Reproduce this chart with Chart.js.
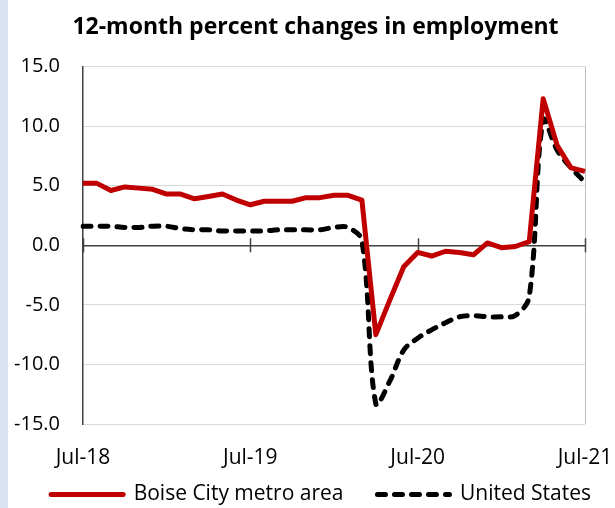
<!DOCTYPE html>
<html>
<head>
<meta charset="utf-8">
<script src="https://cdn.jsdelivr.net/npm/chart.js@4"></script>
<style>
  html, body { margin: 0; padding: 0; background: #fff; }
  #wrap { position: relative; width: 615px; height: 508px; }
  #strip { position: absolute; left: 0; top: 0; width: 8px; height: 508px; background: #dae3f3; }
  #myChart { position: absolute; left: 0; top: 0; }
</style>
</head>
<body>
<div id="wrap">
  <div id="strip"></div>
  <canvas id="myChart" width="615" height="508"></canvas>
</div>
<script>
const months = [
  'Jul-18','Aug-18','Sep-18','Oct-18','Nov-18','Dec-18',
  'Jan-19','Feb-19','Mar-19','Apr-19','May-19','Jun-19',
  'Jul-19','Aug-19','Sep-19','Oct-19','Nov-19','Dec-19',
  'Jan-20','Feb-20','Mar-20','Apr-20','May-20','Jun-20',
  'Jul-20','Aug-20','Sep-20','Oct-20','Nov-20','Dec-20',
  'Jan-21','Feb-21','Mar-21','Apr-21','May-21','Jun-21',
  'Jul-21'
];

const boise = [
  5.2, 5.2, 4.6, 4.9, 4.8, 4.7, 4.3, 4.3, 3.9, 4.1, 4.3, 3.8,
  3.4, 3.7, 3.7, 3.7, 4.0, 4.0, 4.2, 4.2, 3.8, -7.5, -4.6, -1.8,
  -0.6, -0.9, -0.5, -0.6, -0.8, 0.2, -0.2, -0.1, 0.3, 12.3, 8.4, 6.5,
  6.2
];

const unitedStates = [
  1.6, 1.6, 1.6, 1.5, 1.5, 1.6, 1.6, 1.4, 1.3, 1.3, 1.2, 1.2,
  1.2, 1.2, 1.3, 1.3, 1.3, 1.3, 1.5, 1.5, 0.4, -13.3, -11.4, -8.8,
  -7.8, -7.1, -6.5, -6.0, -5.9, -6.0, -6.0, -5.9, -4.3, 10.5, 8.0, 6.5,
  5.3
];

const yTicks = [-15, -10, -5, 0, 5, 10, 15];

const FONT = '"Open Sans", "Liberation Sans", sans-serif';

// small tick marks across the zero line at each labelled month
const zeroTicks = {
  id: 'zeroTicks',
  beforeDatasetsDraw(chart) {
    const { ctx, scales: { x, y } } = chart;
    const y0 = y.getPixelForValue(0);
    ctx.save();
    ctx.strokeStyle = '#404040';
    ctx.lineWidth = 1.5;
    months.forEach((m, i) => {
      if (i % 12 !== 0) return;
      const px = Math.round(x.getPixelForValue(i)) + 0.5;
      ctx.beginPath();
      ctx.moveTo(px, y0 - 7);
      ctx.lineTo(px, y0 + 7);
      ctx.stroke();
    });
    ctx.restore();
  }
};

// legend padding is also used above the text, pull the legend up so it
// sits just under the month labels; title and legend sit a bit right
const boxNudge = {
  id: 'boxNudge',
  afterLayout(chart) {
    const lg = chart.legend;
    if (lg) {
      lg.top -= 21;
      lg.bottom -= 21;
      lg.left += 10;
      lg.right += 10;
    }
    const tb = chart.titleBlock;
    if (tb) {
      tb.left += 8;
      tb.right += 8;
    }
  }
};

const ctx = document.getElementById('myChart').getContext('2d');

new Chart(ctx, {
  type: 'line',
  data: {
    labels: months,
    datasets: [
      {
        label: 'Boise City metro area',
        data: boise,
        borderColor: '#c00000',
        backgroundColor: '#c00000',
        borderWidth: 5,
        pointRadius: 0,
        tension: 0,
        borderJoinStyle: 'round'
      },
      {
        label: 'United States',
        data: unitedStates,
        borderColor: '#000000',
        backgroundColor: '#000000',
        borderWidth: 5,
        borderDash: [8, 9],
        borderCapStyle: 'round',
        pointRadius: 0,
        tension: 0.35
      }
    ]
  },
  options: {
    responsive: false,
    animation: false,
    layout: { padding: { left: 0, right: 0, top: 0, bottom: -28 } },
    plugins: {
      title: {
        display: true,
        text: '12-month percent changes in employment',
        color: '#000',
        font: { family: FONT, size: 23, weight: 'bold' },
        padding: { top: 14, bottom: 25 }
      },
      legend: {
        position: 'bottom',
        align: 'end',
        labels: {
          color: '#000',
          font: { family: FONT, size: 21 },
          usePointStyle: true,
          pointStyleWidth: 72,
          padding: 34,
          generateLabels(chart) {
            return chart.data.datasets.map((ds, i) => ({
              text: ds.label,
              fillStyle: ds.borderColor,
              strokeStyle: ds.borderColor,
              lineWidth: 5,
              lineDash: ds.borderDash || [],
              lineCap: 'round',
              pointStyle: 'line',
              fontColor: '#000',
              datasetIndex: i
            }));
          }
        }
      },
      tooltip: { enabled: false }
    },
    scales: {
      x: {
        grid: {
          drawTicks: false,
          color: (c) => (c.index === months.length - 1 ? '#bfbfbf' : 'rgba(0,0,0,0)')
        },
        border: { display: false },
        ticks: {
          autoSkip: false,
          maxRotation: 0,
          padding: 21,
          color: '#000',
          font: { family: FONT, size: 21 },
          callback: (v, i) => (i % 12 === 0 ? months[i] : '')
        },
        afterFit(scale) {
          scale.height = 47;
          scale.paddingLeft = 0;
          scale.paddingRight = 30;
        }
      },
      y: {
        min: -15,
        max: 15,
        afterBuildTicks(scale) { scale.ticks = yTicks.map(v => ({ value: v })); },
        grid: {
          drawTicks: false,
          color: (c) => (c.tick && c.tick.value === 0 ? '#404040' : '#d9d9d9'),
          lineWidth: (c) => (c.tick && c.tick.value === 0 ? 1.5 : 1)
        },
        border: { color: '#404040', width: 1.5 },
        ticks: {
          padding: 23,
          color: '#000',
          font: { family: FONT, size: 20 },
          callback: (v) => v.toFixed(1)
        },
        afterFit(scale) { scale.width = 83; }
      }
    }
  },
  plugins: [zeroTicks, boxNudge]
});
</script>
</body>
</html>
